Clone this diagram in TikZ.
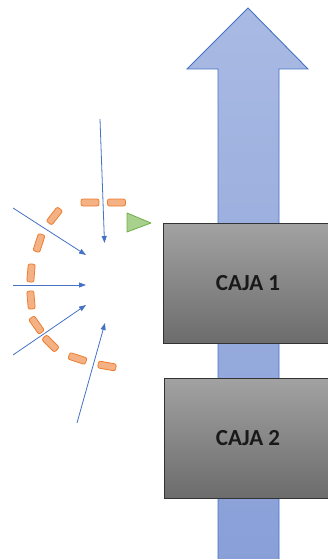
\documentclass[tikz,border=0pt]{standalone}
\usepackage{fontspec}
\setmainfont{Carlito}
\usetikzlibrary{arrows.meta}
\definecolor{flowfill}{HTML}{A9BAE3}
\definecolor{flowfilldark}{HTML}{889FD8}
\definecolor{flowline}{HTML}{4472C4}
\definecolor{boxtop}{HTML}{A2A2A2}
\definecolor{boxbottom}{HTML}{6C6C6C}
\definecolor{dashfill}{HTML}{F4B183}
\definecolor{dashline}{HTML}{ED7D31}
\definecolor{greenfill}{HTML}{A9D18E}
\definecolor{greenline}{HTML}{70AD47}
\tikzset{
  caja/.style={draw=black!80, line width=0.9pt, top color=boxtop, bottom color=boxbottom,
    minimum height=120pt, font=\bfseries\fontsize{23}{26}\selectfont, text=black!90,
    inner sep=0pt},
  seg/.style={draw=dashline, fill=dashfill, line width=0.8pt, rounded corners=2pt,
    minimum width=18pt, minimum height=7pt, inner sep=0pt},
  ray/.style={draw=flowline, line width=0.8pt, -{Triangle[length=7pt,width=5pt]}}
}
\begin{document}
\begin{tikzpicture}[x=1pt,y=-1pt]
\useasboundingbox (0,0) rectangle (328,559);
\clip (0,0) rectangle (328,559);
% wide upward flow arrow behind the boxes
\path[draw=flowline, line width=0.9pt, top color=flowfill, bottom color=flowfilldark, line join=miter]
  (218,565) -- (218,69) -- (187,69) -- (248,8) -- (308,69) -- (279,69) -- (279,565) -- cycle;
% the two boxes
\node[caja, minimum width=170pt] (caja1) at (248,283) {CAJA 1};
\node[caja, minimum width=168pt] (caja2) at (248,438) {CAJA 2};
% green marker
\path[draw=greenline, fill=greenfill, line width=0.8pt, line join=round]
  (127,213) -- (151,223) -- (127,232) -- cycle;
% dashed orange boundary
\node[seg] (s1) at (90,202.5) {};
\node[seg] (s2) at (116.5,202.5) {};
\node[seg, rotate=52] (s3) at (54.5,216) {};
\node[seg, rotate=72] (s4) at (39,243) {};
\node[seg, rotate=85] (s5) at (31,273) {};
\node[seg, rotate=95] (s6) at (31,300) {};
\node[seg, rotate=-55] (s7) at (36.5,325) {};
\node[seg, rotate=-45] (s8) at (50.5,343.5) {};
\node[seg, rotate=-18] (s9) at (77.5,358.5) {};
\node[seg, rotate=-10] (s10) at (107,366) {};
% incoming rays
\coordinate (r1a) at (100,119);  \coordinate (r1b) at (104.5,243);
\coordinate (r2a) at (13,208);   \coordinate (r2b) at (86,255);
\coordinate (r3a) at (13,285);   \coordinate (r3b) at (86,285);
\coordinate (r4a) at (13,355);   \coordinate (r4b) at (86,305);
\coordinate (r5a) at (77,423);   \coordinate (r5b) at (105,323);
\draw[ray] (r1a) -- (r1b);
\draw[ray] (r2a) -- (r2b);
\draw[ray] (r3a) -- (r3b);
\draw[ray] (r4a) -- (r4b);
\draw[ray] (r5a) -- (r5b);
\end{tikzpicture}
\end{document}
